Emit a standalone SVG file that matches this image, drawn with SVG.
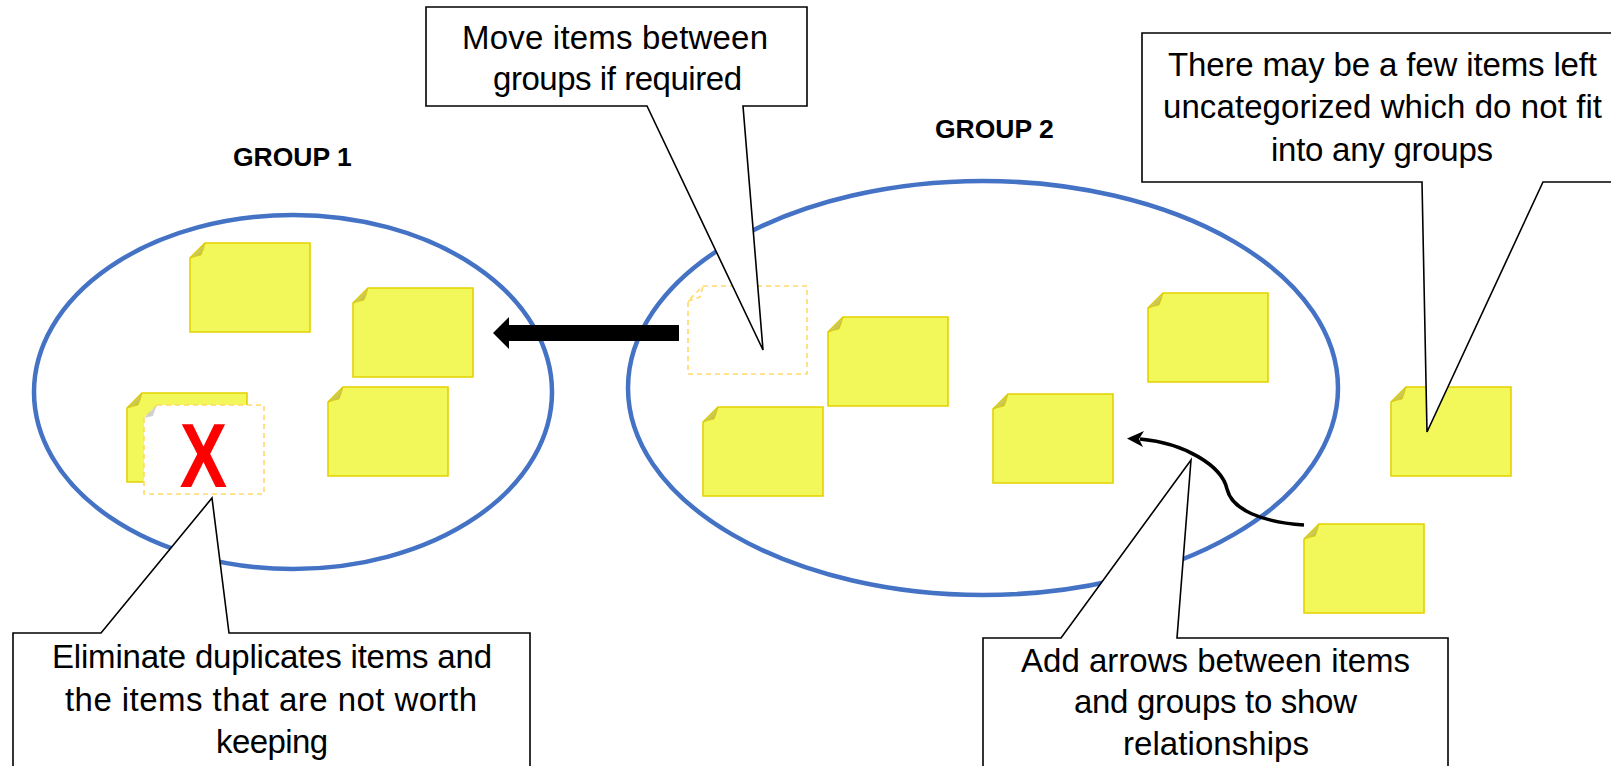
<svg xmlns="http://www.w3.org/2000/svg" xmlns:xlink="http://www.w3.org/1999/xlink" width="1611" height="766" viewBox="0 0 1611 766">
<style>
.grp{fill:none;stroke:#4472C4;stroke-width:4.5}
.lbl{font-family:"Liberation Sans",Arial,sans-serif;font-weight:bold;font-size:26.5px;fill:#000}
.txt{font-family:"Liberation Sans",Arial,sans-serif;font-size:33px;fill:#000}
.call{fill:#fff;stroke:#000;stroke-width:1.6;stroke-linejoin:miter}
.nf{fill:#F2F75A;stroke:#E3D200;stroke-width:1.6}
.fold{fill:url(#foldg);stroke:#D9C800;stroke-width:0.8}
.dash{fill:#fff;stroke:#FFD966;stroke-width:1.6;stroke-dasharray:5,4}
.dashl{fill:none;stroke:#FFD966;stroke-width:1.6;stroke-dasharray:5,4}
</style>
<defs>
<linearGradient id="foldg" x1="0" y1="0" x2="1" y2="1">
<stop offset="0" stop-color="#E6E37A"/>
<stop offset="1" stop-color="#B9B63A"/>
</linearGradient>
<g id="note">
<path class="nf" d="M15,0 H120 V89 H0 V15 Z"/>
<path class="fold" d="M0,15 L15,0 Q13,8 11,12 Q6,13 0,15 Z"/>
</g>
</defs>
<rect width="1611" height="766" fill="#fff"/>

<g id="group1">
<ellipse class="grp" cx="293" cy="392" rx="259" ry="177"/>
<text class="lbl" x="233" y="166">GROUP 1</text>
</g>
<g id="group2">
<ellipse class="grp" cx="983" cy="388" rx="355" ry="207"/>
<text class="lbl" x="935" y="138">GROUP 2</text>
</g>

<g id="moved-note">
<path class="dash" d="M703,286 H807 V374 H688 V301 Z"/>
<path class="dashl" d="M688,301 L700,297 L703,286"/>
</g>

<g id="connectors">
<polygon points="493,333 509,317 509,325 679,325 679,341 509,341 509,349" fill="#000"/>
<path d="M1304,525 C1262,522 1232,510 1227,489 C1222,466 1185,443 1140,439" fill="none" stroke="#000" stroke-width="3.5"/>
<polygon points="1127,438.5 1144,431 1139,439 1143,447" fill="#000"/>
</g>

<g id="g1-note1"><use xlink:href="#note" x="190" y="243"/></g>
<g id="g1-note2"><use xlink:href="#note" x="353" y="288"/></g>
<g id="g1-note3"><use xlink:href="#note" x="328" y="387"/></g>
<g id="g1-note4"><use xlink:href="#note" x="127" y="393"/></g>
<g id="g1-deleted">
<path class="dash" d="M157,405 H264 V494 H144 V418 Z"/>
<path d="M144,418 L157,405 Q154,412 153,416 Z" fill="#D0D0D0"/>
<text x="0" y="0" transform="translate(203.5,487) scale(0.78,1)" text-anchor="middle" font-family="Liberation Sans,Arial,sans-serif" font-weight="bold" font-size="91" fill="#FF0000">X</text>
</g>

<g id="g2-note1"><use xlink:href="#note" x="828" y="317"/></g>
<g id="g2-note2"><use xlink:href="#note" x="703" y="407"/></g>
<g id="g2-note3"><use xlink:href="#note" x="1148" y="293"/></g>
<g id="g2-note4"><use xlink:href="#note" x="993" y="394"/></g>
<g id="free-note1"><use xlink:href="#note" x="1391" y="387"/></g>
<g id="free-note2"><use xlink:href="#note" x="1304" y="524"/></g>

<g id="callout-move">
<path class="call" d="M426,7 H807 V106 H743 L763,350 L647,106 H426 Z"/>
<text class="txt" x="462" y="49" textLength="306">Move items between</text>
<text class="txt" x="493" y="90" textLength="249">groups if required</text>
</g>
<g id="callout-left">
<path class="call" d="M1142,33 H1625 V182 H1543 L1427,432 L1422,182 H1142 Z"/>
<text class="txt" x="1168" y="76" textLength="429">There may be a few items left</text>
<text class="txt" x="1163" y="118" textLength="439">uncategorized which do not fit</text>
<text class="txt" x="1271" y="161" textLength="222">into any groups</text>
</g>
<g id="callout-eliminate">
<path class="call" d="M13,633 H101 L212,498 L229,633 H530 V780 H13 Z"/>
<text class="txt" x="52" y="668" textLength="440">Eliminate duplicates items and</text>
<text class="txt" x="65" y="711" textLength="412">the items that are not worth</text>
<text class="txt" x="216" y="753" textLength="112">keeping</text>
</g>
<g id="callout-arrows">
<path class="call" d="M983,638 H1061 L1191,460 L1177,638 H1448 V780 H983 Z"/>
<text class="txt" x="1021" y="672" textLength="389">Add arrows between items</text>
<text class="txt" x="1074" y="713" textLength="283">and groups to show</text>
<text class="txt" x="1123" y="755" textLength="186">relationships</text>
</g>
</svg>
